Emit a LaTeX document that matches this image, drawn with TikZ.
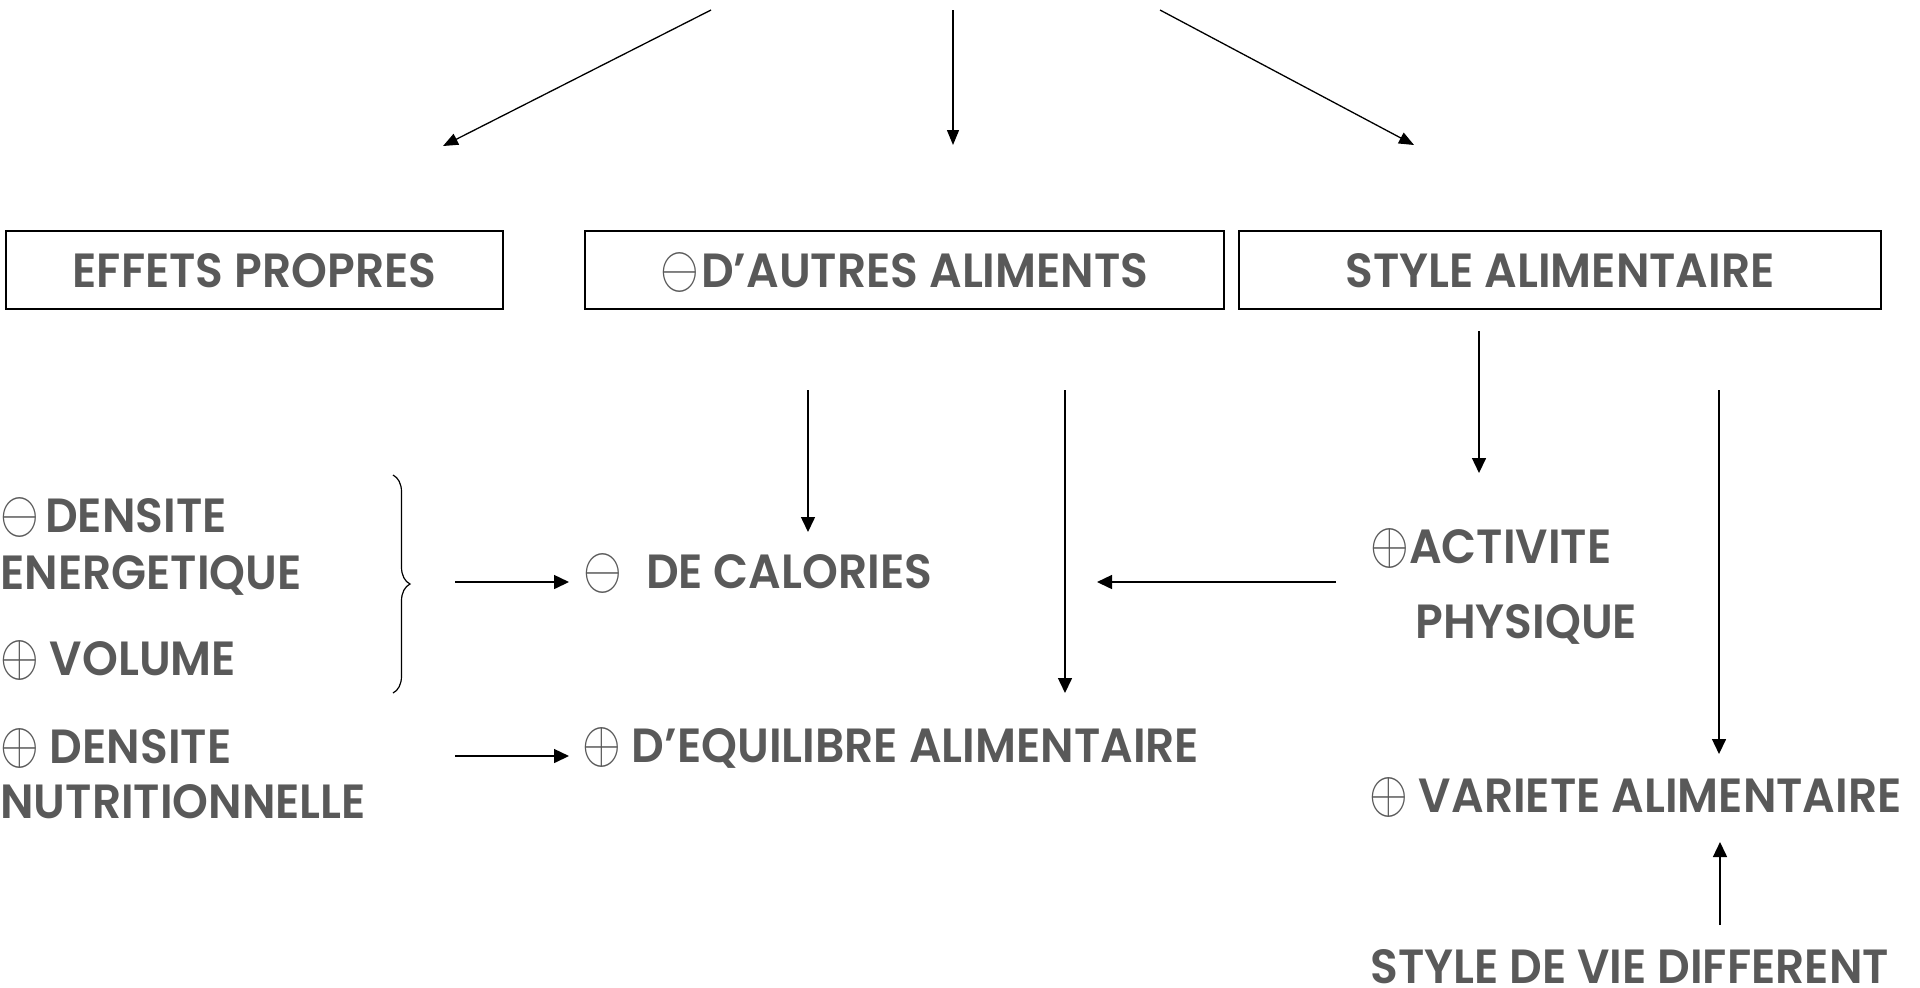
\documentclass[tikz,border=0pt]{standalone}
\usepackage{fontspec}
\setmainfont{Poppins}[BoldFont={Poppins SemiBold}, BoldFeatures={FakeStretch=0.95}]
\usetikzlibrary{arrows.meta,decorations.pathreplacing}
\definecolor{txt}{HTML}{595959}
\newcommand{\labfont}{\fontsize{24}{24}\selectfont\bfseries}
% circled signs, thin outline, taller than wide
\newcommand{\smin}{\scalebox{1}[1.206]{\fontsize{24.88}{24.88}\selectfont$\ominus$}}
\newcommand{\spl}{\scalebox{1}[1.206]{\fontsize{24.88}{24.88}\selectfont$\oplus$}}
\begin{document}
\begin{tikzpicture}[x=0.5pt,y=-0.5pt,
  lab/.style={inner sep=0pt, anchor=base west, text=txt, font=\labfont},
  box/.style={draw, line width=0.75pt, minimum height=39pt, inner sep=0pt,
    text=txt, font=\labfont, text height=17pt, text depth=0pt},
  arr/.style={line width=0.75pt, -{Triangle[length=7.5pt,width=7pt]}},
  toparr/.style={line width=0.65pt, -{Triangle[length=7.5pt,width=6pt]}},
  bracestyle/.style={line width=0.6pt, decorate, decoration={brace, amplitude=8.5pt}}]
\useasboundingbox (0,0) rectangle (1920,987);

% top fan of arrows
\coordinate (src1) at (711,10);
\coordinate (src2) at (953,10);
\coordinate (src3) at (1160,10);
\coordinate (dst1) at (443,146);
\coordinate (dst2) at (953,145);
\coordinate (dst3) at (1414,145);
\draw[toparr] (src1) -- (dst1);
\draw[toparr] (src2) -- (dst2);
\draw[toparr] (src3) -- (dst3);

% three boxes
\node[box, minimum width=248.5pt] (effets) at (254.5,270) {EFFETS PROPRES};
\node[box, minimum width=319.5pt] (autres) at (904.5,270) {\smin\kern1pt D’AUTRES ALIMENTS};
\node[box, minimum width=321pt] (style) at (1560,270) {STYLE ALIMENTAIRE};

% left column
\node[lab] (dens) at (0,532) {\smin\kern3pt DENSITE};
\node[lab] (energ) at (0,589) {ENERGETIQUE};
\node[lab] (vol) at (0,675) {\spl{} VOLUME};
\node[lab] (dnut) at (0,763) {\spl{} DENSITE};
\node[lab] (nutri) at (0,818) {NUTRITIONNELLE};

% middle column
\node[lab] (cal) at (583,588) {\smin\kern12pt DE CALORIES};
\node[lab] (equi) at (582,762) {\spl{} D’EQUILIBRE ALIMENTAIRE};

% right column
\node[lab] (act) at (1370,563) {\spl ACTIVITE};
\node[lab] (phys) at (1415,638) {PHYSIQUE};
\node[lab] (var) at (1369,812) {\spl{} VARIETE ALIMENTAIRE};
\node[lab] (vie) at (1370,983) {STYLE DE VIE DIFFERENT};

% brace grouping the first two effects
\coordinate (brtop) at (393,475);
\coordinate (brbot) at (393,693);
\draw[bracestyle] (brtop) -- (brbot);

% connectors
\coordinate (a1s) at (455,582);
\coordinate (a1e) at (569,582);
\draw[arr] (a1s) -- (a1e);
\coordinate (a2s) at (455,756);
\coordinate (a2e) at (569,756);
\draw[arr] (a2s) -- (a2e);

\coordinate (c1s) at (808,390);
\coordinate (c1e) at (808,532);
\draw[arr] (c1s) -- (c1e);
\coordinate (c2s) at (1065,390);
\coordinate (c2e) at (1065,693);
\draw[arr] (c2s) -- (c2e);

\coordinate (h1s) at (1336,582);
\coordinate (h1e) at (1097,582);
\draw[arr] (h1s) -- (h1e);

\coordinate (r1s) at (1479,331);
\coordinate (r1e) at (1479,473);
\draw[arr] (r1s) -- (r1e);
\coordinate (r2s) at (1719,390);
\coordinate (r2e) at (1719,754);
\draw[arr] (r2s) -- (r2e);
\coordinate (u1s) at (1720,925);
\coordinate (u1e) at (1720,842);
\draw[arr] (u1s) -- (u1e);
\end{tikzpicture}
\end{document}
